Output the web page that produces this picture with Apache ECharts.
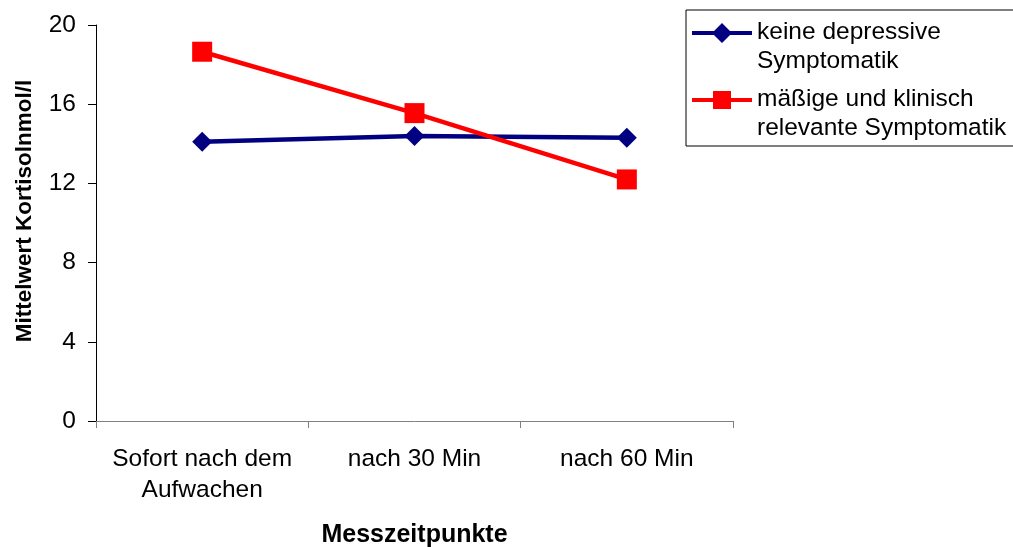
<!DOCTYPE html>
<html>
<head>
<meta charset="utf-8">
<script src="https://cdn.jsdelivr.net/npm/echarts@6/dist/echarts.min.js"></script>
<style>
  html, body { margin: 0; padding: 0; background: #fff; }
  #chart { width: 1013px; height: 547px; }
</style>
</head>
<body>
<div id="chart"></div>
<script>
// Messzeitpunkte (x categories)
const categories = ['Sofort nach dem\nAufwachen', 'nach 30 Min', 'nach 60 Min'];
// Mittelwerte Kortisol (nmol/l) per group
const keineDepressive = [14.1, 14.4, 14.3];
const maessigKlinisch = [18.65, 15.55, 12.2];
// Series labels
const seriesNames = ['keine depressive\nSymptomatik', 'mäßige und klinisch\nrelevante Symptomatik'];
// Value axis range
const yMin = 0, yMax = 20, yStep = 4;

const FONT = '"Liberation Sans", Arial, Helvetica, sans-serif';
const NAVY = '#000080';
const RED = '#ff0000';

// Legend icons: line with marker placed on the first text line (bbox 60 x 58)
const iconDiamond = 'path://M0,0 L0,0 M60,58 L60,58 M0,13 L60,13 L60,17 L0,17 Z M30,5 L40,15 L30,25 L20,15 Z';
const iconSquare = 'path://M0,0 L0,0 M60,58 L60,58 M0,13 L60,13 L60,17 L0,17 Z M21,6 L39,6 L39,24 L21,24 Z';

const chart = echarts.init(document.getElementById('chart'), null, { renderer: 'canvas' });
chart.setOption({
  animation: false,
  backgroundColor: '#fff',
  grid: { left: 96, right: 280, top: 25, bottom: 126, containLabel: false, outerBoundsMode: 'none' },
  legend: {
    orient: 'vertical',
    left: 686,
    top: 10,
    padding: [8, 30, 3, 6],
    itemWidth: 60,
    itemHeight: 58,
    itemGap: 9,
    selectedMode: false,
    borderColor: '#000',
    borderWidth: 1,
    borderRadius: 0,
    textStyle: { fontFamily: FONT, fontSize: 24.5, lineHeight: 29, color: '#000' },
    data: [
      { name: seriesNames[0], icon: iconDiamond },
      { name: seriesNames[1], icon: iconSquare }
    ]
  },
  xAxis: {
    type: 'category',
    data: categories,
    boundaryGap: true,
    name: 'Messzeitpunkte',
    nameLocation: 'middle',
    nameGap: 102,
    nameTextStyle: { fontFamily: FONT, fontSize: 25, fontWeight: 'bold', color: '#000' },
    axisLine: { show: true, lineStyle: { color: '#808080', width: 1 } },
    axisTick: { show: true, length: 7, lineStyle: { color: '#808080' } },
    axisLabel: { fontFamily: FONT, fontSize: 24.5, lineHeight: 31, color: '#000', margin: 23, interval: 0 },
    splitLine: { show: false }
  },
  yAxis: {
    type: 'value',
    min: yMin,
    max: yMax,
    interval: yStep,
    name: 'Mittelwert Kortisolnmol/l',
    nameLocation: 'middle',
    nameGap: 60,
    nameTextStyle: { fontFamily: FONT, fontSize: 22.5, fontWeight: 'bold', color: '#000', padding: [0, 0, 0, 24] },
    axisLine: { show: true, lineStyle: { color: '#000', width: 1 } },
    axisTick: { show: true, length: 8, lineStyle: { color: '#000' } },
    axisLabel: { fontFamily: FONT, fontSize: 24.5, color: '#000', margin: 20 },
    splitLine: { show: false }
  },
  series: [
    {
      name: seriesNames[0],
      type: 'line',
      data: keineDepressive,
      symbol: 'diamond',
      symbolSize: 20,
      color: NAVY,
      lineStyle: { color: NAVY, width: 4.5 },
      itemStyle: { color: NAVY },
      z: 2
    },
    {
      name: seriesNames[1],
      type: 'line',
      data: maessigKlinisch,
      symbol: 'rect',
      symbolSize: 20,
      color: RED,
      lineStyle: { color: RED, width: 4.5 },
      itemStyle: { color: RED },
      z: 3
    }
  ]
});
</script>
</body>
</html>
